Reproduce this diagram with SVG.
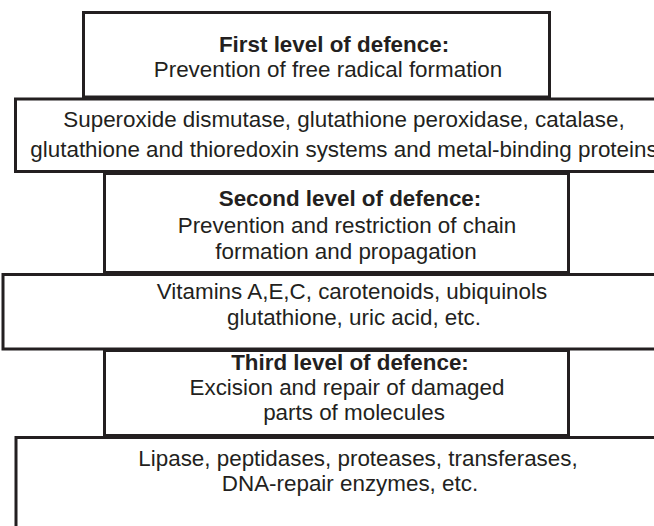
<svg xmlns="http://www.w3.org/2000/svg" width="654" height="526" viewBox="0 0 654 526">
<style>
.box{fill:#ffffff;stroke:#231f20;stroke-width:3}
text{font-family:"Liberation Sans",Arial,sans-serif;font-size:22.4px;fill:#231f20;text-anchor:middle}
.b{font-weight:bold}
</style>
<rect width="654" height="526" fill="#ffffff"/>
<g id="level1">
<rect class="box" x="83.5" y="12.5" width="466" height="84.5"/>
<text class="b" x="334" y="51.5">First level of defence:</text>
<text x="328" y="77">Prevention of free radical formation</text>
</g>
<g id="enzymes1">
<rect class="box" x="15.5" y="99" width="665" height="72.5"/>
<text x="344" y="127">Superoxide dismutase, glutathione peroxidase, catalase,</text>
<text x="344" y="157">glutathione and thioredoxin systems and metal-binding proteins</text>
</g>
<g id="level2">
<rect class="box" x="104.5" y="173.5" width="464" height="99"/>
<text class="b" x="350" y="206">Second level of defence:</text>
<text x="347" y="233">Prevention and restriction of chain</text>
<text x="346" y="259">formation and propagation</text>
</g>
<g id="antioxidants">
<rect class="box" x="3" y="274.5" width="677" height="74.5"/>
<text x="352" y="299">Vitamins A,E,C, carotenoids, ubiquinols</text>
<text x="354" y="325">glutathione, uric acid, etc.</text>
</g>
<g id="level3">
<rect class="box" x="104.5" y="350.5" width="464" height="85"/>
<text class="b" x="350" y="370">Third level of defence:</text>
<text x="347" y="395">Excision and repair of damaged</text>
<text x="354" y="420">parts of molecules</text>
</g>
<g id="repair">
<rect class="box" x="16" y="437.5" width="665" height="100"/>
<text x="358" y="466">Lipase, peptidases, proteases, transferases,</text>
<text x="350" y="491">DNA-repair enzymes, etc.</text>
</g>
<g id="connectors"/>
</svg>
